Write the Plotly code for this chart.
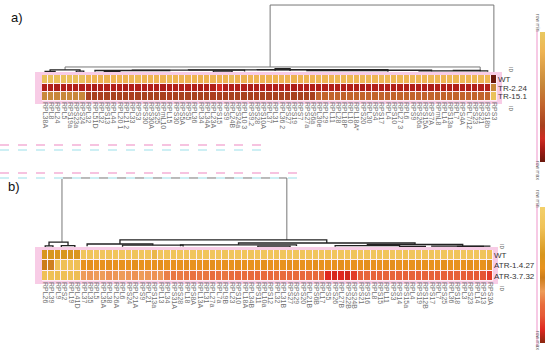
import plotly.graph_objects as go

W, H = 550, 362

# ---------------- DATA ----------------
a_labels = ["RPL38A","RPL8","RPL24","RPL5","RPS19a","RPS23a","RPS24","RPL32","RPL51D","RPL32",
            "RPS13","RPL44","RPL20 1","RPL21 2","RPL33","RPS3","RPS30","RPS30A","RPS25","RPmL10",
            "RPL15","RPS30","RPS5A","RPS5","RPL36","RPL34","RPL34A","RPL23A","RPS15","RPS9",
            "RPL24B","RPS24a","RPL10 3","RPS9.2","RPS28","RPS10A","RPL37","RPL31","RPL36 2","RPS27",
            "RPS19","RPS7","RPS27a","RPS6a","RPL30e","RPL29","RPL11","RPL28","RPL18P","RPL10",
            "RPL18A*","RPS20","RPL30","RPS4","RPS17","RPL4","RPS10","RPL27 3","RPL6","RPS9",
            "RPS26a","RPS15A","RPS7A","RPmL8","RPL14","RPS13a","RPL7","RPS4A","RPL7/12","RPS23",
            "RPS21","RPS18b","RPS3"]
a_rows = ["WT", "TR-2.24", "TR-15.1"]
a_wt = [0.05,0.05,0.06,0.05,0.05,0.06,0.05,
        0.15,0.14,0.15,0.16,0.15,0.14,0.15,0.12,0.10,0.15,
        0.14,0.15,0.15,0.10,0.15,0.14,0.15,0.15,0.16,0.15,
        0.14,0.15,0.15,0.08,0.15,0.16,0.15,0.14,0.15,0.15,
        0.15,0.14,0.15,0.16,0.15,0.14,0.15,0.12,0.14,0.15,
        0.12,0.13,0.12,0.14,0.12,0.12,0.14,0.12,0.12,0.13,
        0.12,0.14,0.12,0.12,0.14,0.12,0.12,0.14,0.12,0.13,
        0.12,0.14,0.12,0.12,0.12,1.00]
a_tr224 = [0.88,0.88,0.89,0.88,0.88,0.88,0.88,
           0.88,0.89,0.88,0.88,0.88,0.88,0.89,0.88,0.88,0.88,
           0.88,0.88,0.89,0.88,0.88,0.88,0.88,0.88,0.89,0.88,
           0.88,0.82,0.88,0.88,0.88,0.88,0.89,0.88,0.88,0.88,
           0.88,0.88,0.88,0.89,0.88,0.88,0.88,0.88,0.88,0.88,
           0.88,0.88,0.88,0.88,0.89,0.88,0.88,0.88,0.88,0.88,
           0.88,0.88,0.88,0.88,0.88,0.89,0.88,0.88,0.88,0.88,
           0.88,0.88,0.88,0.88,0.88,0.40]
a_tr151 = [0.40,0.40,0.41,0.40,0.40,0.41,0.40,
           0.72,0.72,0.73,0.72,0.72,0.72,0.72,0.73,0.72,0.72,
           0.72,0.72,0.72,0.73,0.72,0.72,0.72,0.72,0.72,0.72,
           0.73,0.72,0.72,0.72,0.72,0.72,0.72,0.73,0.72,0.72,
           0.72,0.72,0.72,0.72,0.72,0.72,0.72,0.56,0.56,0.56,
           0.56,0.57,0.56,0.56,0.56,0.56,0.56,0.56,0.57,0.56,
           0.56,0.56,0.56,0.56,0.56,0.56,0.57,0.56,0.56,0.56,
           0.56,0.56,0.56,0.56,0.56,0.05]

b_labels = ["RPL26","RPL39","RPL9","RPS2","RPL19","RPL41D","RPL37","RPL35","RPL5","RPL35A",
            "RPL38","RPL26A","RPL6","RPS24","RPL21A","RPS9","RPL21","RPS13a","RPL13","RPL34",
            "RPS31A","RPS28","RPL18","RPS8A","RPL13A","RPL31","RPL27a","RPL7a","RPL9B","RPL23",
            "RPS10","RPL18A","RPL34B","RPS11","RPL10a","RPS12","RPL32","RPL31B","RPS27","RPS29",
            "RPS20","RPL21B","RPS6B","RPL17","RPS5","RPS26","RPL27B","RPS22B","RPS24B","RPS21",
            "RPS16","RPL8","RPS15","RPL11","RPS3","RPS14","RPS15a","RPL4","RPS19","RPS12B",
            "RPS17","RPL7","RPS25","RPL36","RPS18","RPL3","RPS23","RPL14","RPS13","RPS3A"]
b_rows = ["WT", "ATR-1.4.27", "ATR-3.7.32"]
b_wt = [0.35,0.35,0.36,0.35,0.35,0.36,
        0.12,0.13,0.12,0.12,0.13,0.12,0.12,0.12,0.13,0.12,0.12,0.20,0.12,0.12,
        0.13,0.12,0.12,0.12,0.13,0.12,0.12,0.12,0.13,0.12,0.12,0.12,0.13,0.12,
        0.12,0.12,0.13,0.12,0.12,0.12,0.13,0.12,0.12,0.12,0.13,0.12,0.12,0.12,
        0.13,0.12,0.12,0.12,0.13,0.12,0.12,0.12,0.13,0.12,0.12,0.12,0.13,0.12,
        0.12,0.12,0.13,0.12,0.12,0.12,0.13,0.16]
b_atr14 = [0.52,0.53,0.15,0.16,0.15,0.16,
           0.45,0.46,0.45,0.45,0.46,0.45,0.45,0.45,0.46,0.45,0.45,0.45,0.46,0.45,
           0.45,0.45,0.46,0.45,0.45,0.45,0.46,0.45,0.45,0.45,0.46,0.45,0.45,0.45,
           0.46,0.45,0.45,0.45,0.46,0.45,0.45,0.45,0.46,0.45,0.45,0.45,0.46,0.45,
           0.45,0.45,0.46,0.45,0.45,0.45,0.46,0.45,0.45,0.45,0.46,0.45,0.45,0.45,
           0.46,0.45,0.45,0.45,0.46,0.45,0.45,0.48]
b_atr37 = [0.16,0.16,0.17,0.16,0.16,0.17,
           0.62,0.63,0.62,0.62,0.64,0.63,0.62,0.63,0.64,0.62,0.63,0.64,0.63,0.68,
           0.70,0.69,0.70,0.71,0.70,0.70,0.72,0.71,0.70,0.72,0.73,0.72,0.73,0.74,
           0.73,0.74,0.72,0.73,0.74,0.73,0.74,0.73,0.74,0.75,0.90,0.91,0.90,0.92,
           0.86,0.76,0.75,0.76,0.77,0.76,0.75,0.76,0.77,0.76,0.77,0.76,0.77,0.78,
           0.77,0.78,0.77,0.78,0.79,0.80,0.81,0.86]

# dendrogram links: left x, right x (column units), left/right bottom heights, top height
a_link_xl = [36.1, 3.2, 36.9, 0.8, 0.0, 5.0, 8.0, 14.0, 23.0, 42.0, 48.0, 34.0, 60.0, 65.5, 9.5, 27.0]
a_link_xr = [72.0, 69.8, 39.3, 5.6, 1.6, 6.2, 20.0, 32.0, 45.0, 55.0, 62.0, 55.0, 71.0, 69.8, 12.0, 30.0]
a_link_hl = [0.074, 0.030, 0.020, 0.010, 0.0, 0.0, 0.005, 0.022, 0.028, 0.010, 0.020, 0.032, 0.008, 0.018, 0.0, 0.0]
a_link_hr = [0.0, 0.025, 0.015, 0.012, 0.0, 0.0, 0.010, 0.008, 0.015, 0.005, 0.010, 0.026, 0.005, 0.010, 0.0, 0.0]
a_link_ht = [0.985, 0.074, 0.050, 0.030, 0.010, 0.012, 0.022, 0.028, 0.032, 0.020, 0.026, 0.035, 0.018, 0.025, 0.008, 0.012]

b_link_xl = [2.6, 0.59, 0.0, 2.5, 11.6, 6.5, 30.0, 21.0, 50.0, 45.0, 60.0, 12.0, 33.0, 55.0, 64.0]
b_link_xr = [37.5, 3.54, 1.2, 4.6, 43.7, 16.7, 57.4, 39.0, 64.8, 55.0, 69.0, 21.4, 38.0, 59.0, 68.0]
b_link_hl = [0.070, 0.015, 0.0, 0.0, 0.042, 0.010, 0.030, 0.010, 0.020, 0.005, 0.005, 0.005, 0.0, 0.0, 0.0]
b_link_hr = [0.099, 0.020, 0.0, 0.0, 0.056, 0.025, 0.035, 0.015, 0.010, 0.010, 0.005, 0.008, 0.0, 0.0, 0.0]
b_link_ht = [0.972, 0.070, 0.015, 0.020, 0.099, 0.042, 0.056, 0.030, 0.035, 0.020, 0.012, 0.025, 0.012, 0.010, 0.008]

a_scale = [[0.00, "#e8c860"], [0.15, "#efb453"], [0.40, "#c8883a"], [0.56, "#c2642c"],
           [0.72, "#a8401e"], [0.82, "#d02c22"], [0.90, "#a61c16"], [1.00, "#6a180c"]]
b_scale = [[0.00, "#f3d06a"], [0.15, "#f0c258"], [0.35, "#d8961e"], [0.45, "#e8921e"],
           [0.52, "#cc7c1a"], [0.62, "#ee9c58"], [0.72, "#e86c3c"], [0.80, "#e65a36"],
           [0.90, "#e02820"], [1.00, "#8a2810"]]


# ---------------- helpers ----------------
def px(x):
    return x / W


def py(y):
    return 1 - y / H


def flip(scale):
    # value v -> -v so that the colorbar shows "row min" (yellow) at the top
    return sorted([[round(1 - p, 4), c] for p, c in scale], key=lambda t: t[0])


def dendro_xy(xl, xr, hl, hr, ht):
    xs, ys = [], []
    for a, b, c, d, e in zip(xl, xr, hl, hr, ht):
        xs += [a, a, b, b, None]
        ys += [c, e, e, d, None]
    return xs, ys


fig = go.Figure()

z_a = [[-v for v in a_wt], [-v for v in a_tr224], [-v for v in a_tr151]]
z_b = [[-v for v in b_wt], [-v for v in b_atr14], [-v for v in b_atr37]]

fig.add_trace(go.Heatmap(z=z_a, x=list(range(len(a_labels))), y=[0, 1, 2],
                         coloraxis="coloraxis", xgap=1, ygap=1, hoverinfo="skip",
                         xaxis="x", yaxis="y"))
fig.add_trace(go.Heatmap(z=z_b, x=list(range(len(b_labels))), y=[0, 1, 2],
                         coloraxis="coloraxis2", xgap=1, ygap=1, hoverinfo="skip",
                         xaxis="x3", yaxis="y3"))

# dendrograms: upper links grey, dense lower band dark
for xl, xr, hl, hr, ht, xa, ya in [
        (a_link_xl, a_link_xr, a_link_hl, a_link_hr, a_link_ht, "x2", "y2"),
        (b_link_xl, b_link_xr, b_link_hl, b_link_hr, b_link_ht, "x4", "y4")]:
    k = 2 if xa == "x2" else 1
    xs, ys = dendro_xy(xl[:k], xr[:k], hl[:k], hr[:k], ht[:k])
    fig.add_trace(go.Scatter(x=xs, y=ys, mode="lines", line=dict(color="#777777", width=1),
                             hoverinfo="skip", showlegend=False, xaxis=xa, yaxis=ya))
    xs, ys = dendro_xy(xl[k:], xr[k:], hl[k:], hr[k:], ht[k:])
    fig.add_trace(go.Scatter(x=xs, y=ys, mode="lines", line=dict(color="#222222", width=1.3),
                             hoverinfo="skip", showlegend=False, xaxis=xa, yaxis=ya))

lab_font = dict(family="Liberation Sans Narrow, Arial Narrow, Liberation Sans, sans-serif",
                size=7, color="#707070")
row_font = dict(family="Liberation Sans Narrow, Arial Narrow, Liberation Sans, sans-serif",
                size=8, color="#333333")

na, nb = len(a_labels), len(b_labels)
xa_dom = [px(42), px(497)]
xb_dom = [px(42), px(493)]

fig.update_layout(
    width=W, height=H, margin=dict(l=0, r=0, t=0, b=0),
    paper_bgcolor="white", plot_bgcolor="rgba(0,0,0,0)", showlegend=False,
    xaxis=dict(domain=xa_dom, range=[-0.5, na - 0.5], tickvals=list(range(na)), ticktext=a_labels,
               tickangle=90, tickfont=lab_font, ticks="", showgrid=False, zeroline=False,
               showline=False, anchor="y"),
    yaxis=dict(domain=[py(101), py(75)], range=[2.5, -0.5], tickvals=[0, 1, 2], ticktext=a_rows,
               side="right", tickfont=row_font, ticks="", showgrid=False, zeroline=False,
               anchor="x"),
    xaxis2=dict(domain=xa_dom, range=[-0.5, na - 0.5], visible=False, anchor="y2"),
    yaxis2=dict(domain=[py(72), py(4)], range=[0, 1], visible=False, anchor="x2"),
    xaxis3=dict(domain=xb_dom, range=[-0.5, nb - 0.5], tickvals=list(range(nb)), ticktext=b_labels,
                tickangle=90, tickfont=lab_font, ticks="", showgrid=False, zeroline=False,
                showline=False, anchor="y3"),
    yaxis3=dict(domain=[py(281), py(250)], range=[2.5, -0.5], tickvals=[0, 1, 2], ticktext=b_rows,
                side="right", tickfont=row_font, ticks="", showgrid=False, zeroline=False,
                anchor="x3"),
    xaxis4=dict(domain=xb_dom, range=[-0.5, nb - 0.5], visible=False, anchor="y4"),
    yaxis4=dict(domain=[py(247), py(176)], range=[0, 1], visible=False, anchor="x4"),
    coloraxis=dict(colorscale=flip(a_scale), cmin=-1, cmax=0, showscale=True,
                   colorbar=dict(x=px(540), xanchor="left", y=py(97), yanchor="middle",
                                 len=130, lenmode="pixels", thickness=5, thicknessmode="pixels",
                                 outlinewidth=0, showticklabels=False, ticks="", xpad=0, ypad=0)),
    coloraxis2=dict(colorscale=flip(b_scale), cmin=-1, cmax=0, showscale=True,
                    colorbar=dict(x=px(540), xanchor="left", y=py(275), yanchor="middle",
                                  len=136, lenmode="pixels", thickness=5, thicknessmode="pixels",
                                  outlinewidth=0, showticklabels=False, ticks="", xpad=0, ypad=0)),
)

shapes = []
# pink selection frames behind the heatmaps and light cell-gap fill
for (x0, x1, y0, y1), fill in [((35, 502, 72, 104), "#f8cce6"), ((42, 497, 75, 101), "#fdf0f6"),
                               ((35, 498, 247, 284), "#f8cce6"), ((42, 493, 250, 281), "#fdf0f6")]:
    shapes.append(dict(type="rect", xref="paper", yref="paper", x0=px(x0), x1=px(x1),
                       y0=py(y1), y1=py(y0), fillcolor=fill, line=dict(width=0), layer="below"))
# pink guide lines next to the colour bars
for y0, y1 in [(30, 166), (204, 347)]:
    shapes.append(dict(type="line", xref="paper", yref="paper", x0=px(537), x1=px(537),
                       y0=py(y0), y1=py(y1), line=dict(color="#f4b8dc", width=1.5)))
# faint dashed selection artefacts
for y, x1, col in [(145, 265, "#f6c3e0"), (150, 265, "#cdeff4"), (173, 300, "#f6c3e0"), (178, 300, "#cdeff4")]:
    shapes.append(dict(type="line", xref="paper", yref="paper", x0=0, x1=px(x1),
                       y0=py(y), y1=py(y), line=dict(color=col, width=2, dash="dash")))
fig.update_layout(shapes=shapes)

ann = []
ann.append(dict(text="a)", x=px(9), y=py(18), xref="paper", yref="paper", showarrow=False,
                xanchor="left", yanchor="middle", font=dict(family="Liberation Sans", size=13, color="#111")))
ann.append(dict(text="b)", x=px(6), y=py(187), xref="paper", yref="paper", showarrow=False,
                xanchor="left", yanchor="middle", font=dict(family="Liberation Sans", size=13, color="#111")))
small = dict(family="Liberation Sans Narrow, Liberation Sans, sans-serif", size=5, color="#666666")
for x, y in [(506, 69), (506, 108), (497, 246), (497, 288)]:
    ann.append(dict(text="ID", x=px(x), y=py(y), xref="paper", yref="paper", showarrow=False,
                    textangle=90, font=small, xanchor="left", yanchor="middle"))
for txt, y in [("row min", 23), ("row max", 170), ("row min", 199), ("row max", 340)]:
    ann.append(dict(text=txt, x=px(538), y=py(y), xref="paper", yref="paper", showarrow=False,
                    textangle=90, font=small, xanchor="center", yanchor="middle"))
fig.update_layout(annotations=ann)

fig.write_html("out.html", config={"displayModeBar": False},
               post_script="document.body.style.margin='0';document.body.style.overflow='hidden';")
